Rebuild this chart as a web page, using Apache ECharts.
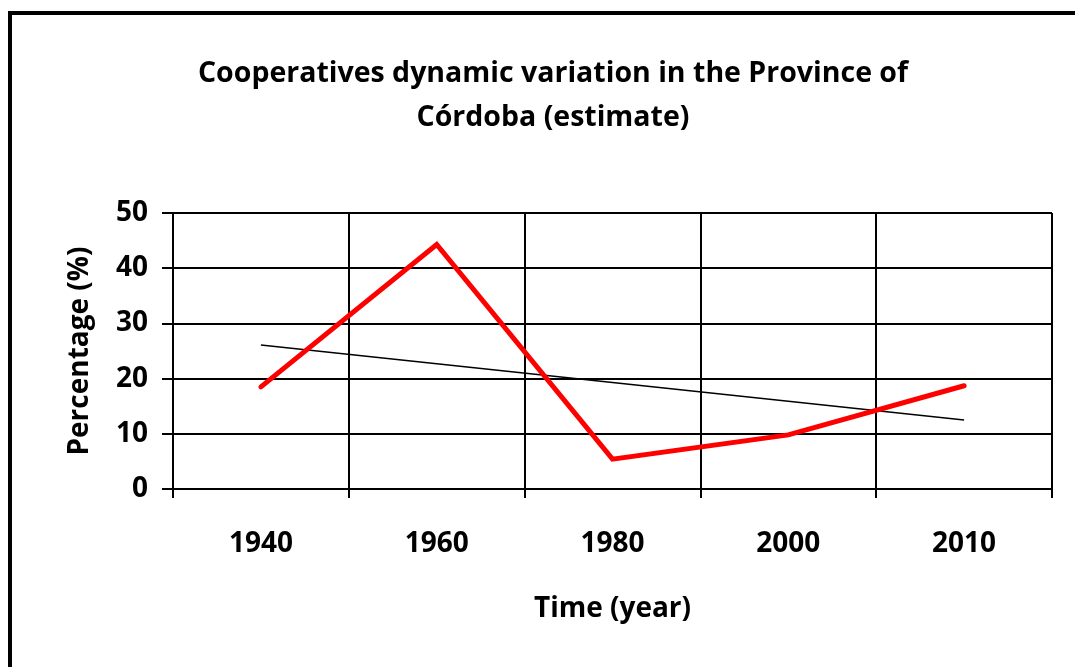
<!DOCTYPE html>
<html>
<head>
<meta charset="utf-8">
<script src="https://cdn.jsdelivr.net/npm/echarts@6/dist/echarts.min.js"></script>
<style>
html,body{margin:0;padding:0;background:#fff;}
#chart{width:1075px;height:667px;}
</style>
</head>
<body>
<div id="chart"></div>
<script>
var categories = ['1940', '1960', '1980', '2000', '2010'];
var cooperatives = [18.5, 44.3, 5.4, 9.8, 18.7];
var trendline = [26.1, 22.7, 19.3, 15.9, 12.5];
var yTicks = [0, 10, 20, 30, 40, 50];

var FONT = '"Open Sans", sans-serif';
var chart = echarts.init(document.getElementById('chart'));
chart.setOption({
  animation: false,
  backgroundColor: '#ffffff',
  title: {
    text: 'Cooperatives dynamic variation in the Province of\nCórdoba (estimate)',
    left: 548,
    textAlign: 'center',
    top: 47,
    textStyle: { fontFamily: FONT, fontWeight: 'bold', fontSize: 28.5, lineHeight: 44, color: '#000', align: 'center' }
  },
  graphic: [{
    type: 'rect',
    shape: { x: 10, y: 13, width: 1200, height: 800 },
    style: { fill: 'none', stroke: '#000', lineWidth: 4 },
    silent: true
  }],
  grid: { left: 173, right: 23, top: 213, bottom: 178, containLabel: false },
  xAxis: {
    type: 'category',
    data: categories,
    boundaryGap: true,
    name: 'Time (year)',
    nameLocation: 'middle',
    nameGap: 106,
    nameTextStyle: { fontFamily: FONT, fontWeight: 'bold', fontSize: 28, color: '#000' },
    axisLine: { show: true, lineStyle: { color: '#000', width: 2 } },
    axisTick: { show: true, length: 9, inside: false, alignWithLabel: false, lineStyle: { color: '#000', width: 2 } },
    axisLabel: { fontFamily: FONT, fontWeight: 'bold', fontSize: 28, color: '#000', margin: 41 },
    splitLine: { show: true, interval: 0, lineStyle: { color: '#000', width: 2 } }
  },
  yAxis: {
    type: 'value',
    min: 0,
    max: 50,
    interval: 10,
    name: 'Percentage (%)',
    nameLocation: 'middle',
    nameGap: 79,
    nameTextStyle: { fontFamily: FONT, fontWeight: 'bold', fontSize: 28, color: '#000' },
    axisLine: { show: true, lineStyle: { color: '#000', width: 2 } },
    axisTick: { show: true, length: 11, lineStyle: { color: '#000', width: 2 } },
    axisLabel: {
      fontFamily: FONT, fontWeight: 'bold', fontSize: 28, color: '#000', margin: 25,
      formatter: function (v) { return yTicks.indexOf(v) >= 0 ? String(v) : ''; }
    },
    splitLine: { show: true, lineStyle: { color: '#000', width: 2 } }
  },
  series: [
    {
      type: 'line',
      data: trendline,
      symbol: 'none',
      lineStyle: { color: '#000', width: 1.5 },
      z: 3
    },
    {
      type: 'line',
      data: cooperatives,
      symbol: 'none',
      lineStyle: { color: '#ff0000', width: 5, cap: 'round', join: 'miter' },
      z: 4
    }
  ]
});
</script>
</body>
</html>
